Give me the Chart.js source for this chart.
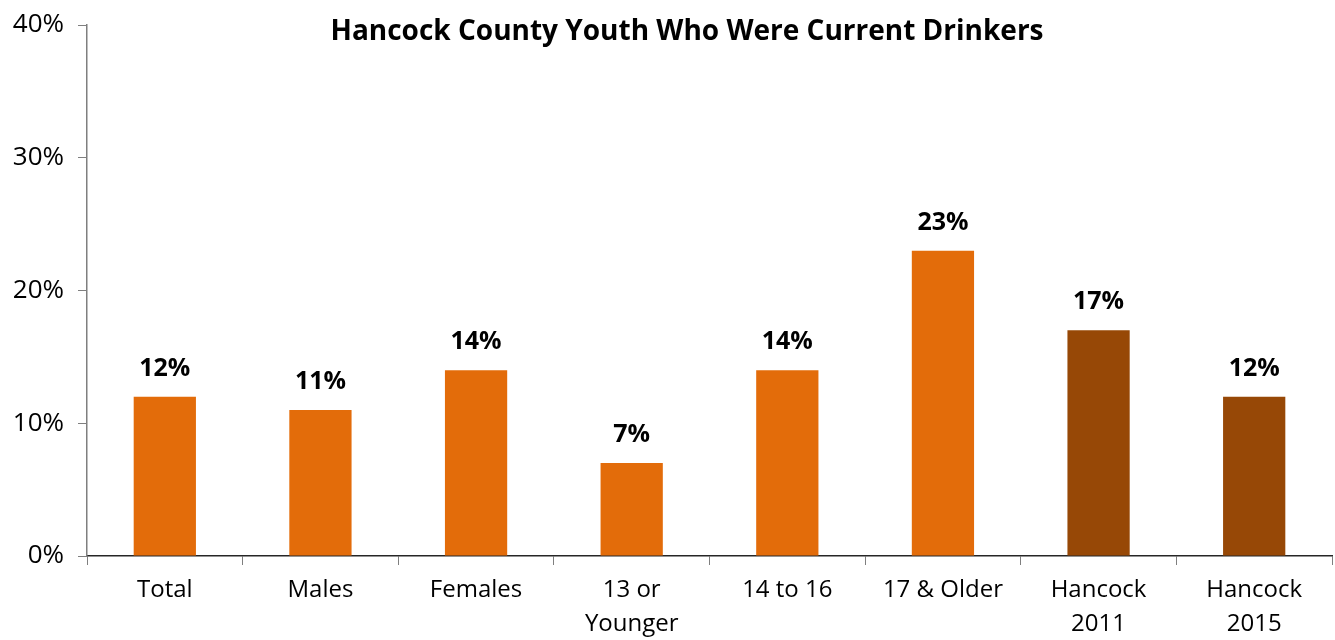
<!DOCTYPE html>
<html>
<head>
<meta charset="utf-8">
<script src="https://cdn.jsdelivr.net/npm/chart.js@4"></script>
<style>
    body { margin: 0; background: #fff; }
    #wrap { width: 1335px; height: 640px; }
</style>
</head>
<body>
<div id="wrap"><canvas id="myChart" width="1335" height="640"></canvas></div>
<script>
var categories = ['Total', 'Males', 'Females', ['13 or', 'Younger'], '14 to 16', '17 & Older', ['Hancock', '2011'], ['Hancock', '2015']];
var values = [12, 11, 14, 7, 14, 23, 17, 12];
var barColors = ['#E36C0A', '#E36C0A', '#E36C0A', '#E36C0A', '#E36C0A', '#E36C0A', '#974806', '#974806'];
var yTicks = [0, 10, 20, 30, 40];
var chartTitle = 'Hancock County Youth Who Were Current Drinkers';

var fontFamily = "'Open Sans', 'Noto Sans', sans-serif";

// draws the % value above each bar
var barLabels = {
    id: 'barLabels',
    afterDatasetsDraw(chart) {
        const ctx = chart.ctx;
        const meta = chart.getDatasetMeta(0);
        ctx.save();
        ctx.font = 'bold 25px ' + fontFamily;
        ctx.fillStyle = '#000';
        ctx.textAlign = 'center';
        ctx.textBaseline = 'middle';
        meta.data.forEach((bar, i) => {
            ctx.fillText(values[i] + '%', bar.x, bar.y - 28);
        });
        ctx.restore();
    }
};

// title sits inside the plot area
var titleInside = {
    id: 'titleInside',
    afterDraw(chart) {
        const ctx = chart.ctx;
        ctx.save();
        ctx.font = 'bold 28px ' + fontFamily;
        ctx.fillStyle = '#000';
        ctx.textAlign = 'center';
        ctx.textBaseline = 'middle';
        ctx.fillText(chartTitle, 687, 32);
        ctx.restore();
    }
};

new Chart(document.getElementById('myChart').getContext('2d'), {
    type: 'bar',
    data: {
        labels: categories,
        datasets: [{
            data: values,
            backgroundColor: barColors,
            categoryPercentage: 1,
            barPercentage: 0.4
        }]
    },
    options: {
        responsive: false,
        animation: false,
        layout: { padding: { top: 0, right: 3, left: 0, bottom: 0 } },
        plugins: {
            legend: { display: false },
            tooltip: { enabled: false }
        },
        scales: {
            x: {
                offset: true,
                grid: {
                    offset: true,
                    drawOnChartArea: false,
                    tickLength: 9,
                    color: '#7f7f7f'
                },
                border: { color: '#262626', width: 1.5 },
                ticks: {
                    color: '#000',
                    padding: 9,
                    font: { family: fontFamily, size: 24, lineHeight: 1.38 }
                },
                afterFit: scale => { scale.height = 84; }
            },
            y: {
                min: 0,
                max: 40,
                afterBuildTicks: scale => { scale.ticks = yTicks.map(v => ({ value: v })); },
                grid: {
                    drawOnChartArea: false,
                    tickLength: 9,
                    color: '#7f7f7f'
                },
                border: { color: '#7f7f7f', width: 1.5 },
                ticks: {
                    color: '#000',
                    padding: 14,
                    font: { family: fontFamily, size: 26, lineHeight: 0.85 },
                    callback: v => v + '%'
                },
                afterFit: scale => { scale.width = 87; }
            }
        }
    },
    plugins: [barLabels, titleInside]
});
</script>
</body>
</html>
